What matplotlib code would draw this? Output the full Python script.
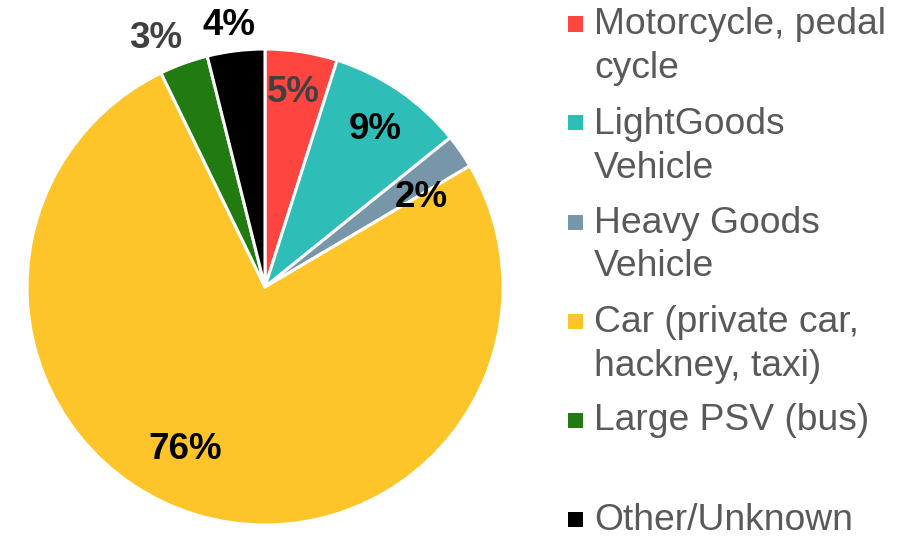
import matplotlib
matplotlib.use("Agg")
import matplotlib.pyplot as plt
from matplotlib.patches import Rectangle

plt.rcParams['font.family'] = ['Liberation Sans', 'DejaVu Sans']

# ---- data ----
categories = ["Motorcycle, pedal\ncycle", "LightGoods\nVehicle", "Heavy Goods\nVehicle",
              "Car (private car,\nhackney, taxi)", "Large PSV (bus)\n", "Other/Unknown"]
values = [4.9, 9.3, 2.3, 76.3, 3.3, 3.9]
pct_labels = ["5%", "9%", "2%", "76%", "3%", "4%"]
colors = ["#FF4540", "#2FBDB7", "#7896AA", "#FEC52A", "#217B11", "#000000"]
label_colors = ["#404040", "#000000", "#000000", "#000000", "#404040", "#000000"]

# label baseline positions (layout, in pie data units)
label_pos = [(0.118, 0.777), (0.464, 0.622), (0.655, 0.336),
             (-0.334, -0.723), (-0.460, 1.004), (-0.151, 1.059)]

W, H = 910, 537
fig = plt.figure(figsize=(W / 100, H / 100), dpi=100)
ax = fig.add_axes([27 / W, 12 / H, 476 / W, 476 / H])
ax.pie(values, colors=colors, startangle=90, counterclock=False, radius=1,
       wedgeprops=dict(edgecolor="white", linewidth=2.2))
ax.set_xlim(-1, 1)
ax.set_ylim(-1, 1)
ax.set_aspect("equal")
ax.axis("off")

for (x, y), t, c in zip(label_pos, pct_labels, label_colors):
    ax.text(x, y, t, ha="center", va="baseline", fontsize=26.5, fontweight="bold",
            color=c, clip_on=False)

# legend drawn manually
text_x = 594
sq_x = 568
sq = 15
base0 = 34.5
entry_step = 99
line_step = 44
for i, (lab, col) in enumerate(zip(categories, colors)):
    base = base0 + entry_step * i
    fig.patches.append(Rectangle((sq_x / W, 1 - (base - 3) / H), sq / W, sq / H,
                                 transform=fig.transFigure, facecolor=col,
                                 edgecolor="none"))
    for j, line in enumerate(lab.split("\n")):
        if line:
            fig.text(text_x / W, 1 - (base + line_step * j) / H, line,
                     ha="left", va="baseline", fontsize=26.8, color="#595959")

fig.savefig("out.png", dpi=100)
